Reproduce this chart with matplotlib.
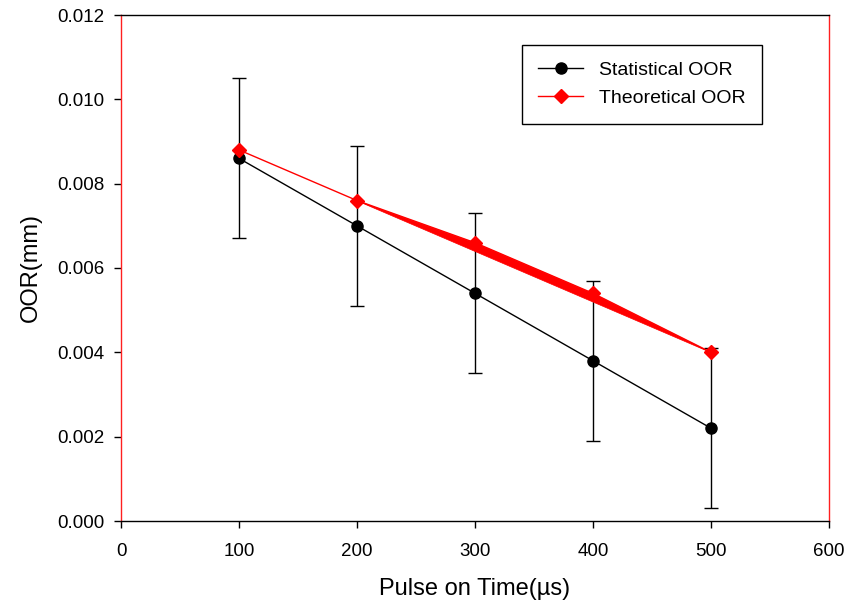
import matplotlib
matplotlib.use("Agg")
import matplotlib.pyplot as plt

plt.rcParams['font.family'] = ['Liberation Sans', 'DejaVu Sans']

# Pulse-on time (µs)
pulse_on = [100, 200, 300, 400, 500]
# Overcut (mm)
statistical_oor = [0.0086, 0.0070, 0.0054, 0.0038, 0.0022]
statistical_err = [0.0019, 0.0019, 0.0019, 0.0019, 0.0019]
theoretical_oor = [0.0088, 0.0076, 0.0066, 0.0054, 0.0040]
# lower edge of the theoretical band (200-500 µs)
band_x = [200, 300, 400, 500]
band_lower = [0.0076, 0.0064, 0.0052, 0.0040]

x_ticks = [0, 100, 200, 300, 400, 500, 600]
y_ticks = [0.000, 0.002, 0.004, 0.006, 0.008, 0.010, 0.012]

fig = plt.figure(figsize=(8.47, 6.10), dpi=100)
ax = fig.add_axes([121 / 847, 89 / 610, 708 / 847, 506 / 610])

ax.errorbar(pulse_on, statistical_oor, yerr=statistical_err, fmt='none',
            ecolor='black', elinewidth=1.0, capsize=5, capthick=1.0, zorder=2)
ax.plot(pulse_on, statistical_oor, color='black', lw=1.0, marker='o',
        markersize=8, label='Statistical OOR', zorder=3)

ax.fill_between(band_x, band_lower, theoretical_oor[1:], color='red',
                lw=0.5, edgecolor='red', zorder=3)
ax.plot(pulse_on, theoretical_oor, color='red', lw=1.0, marker='D',
        markersize=7, label='Theoretical OOR', zorder=4)

ax.set_xlim(0, 600)
ax.set_ylim(0, 0.012)
ax.set_xticks(x_ticks)
ax.set_yticks(y_ticks)
ax.set_yticklabels([f"{v:.3f}" for v in y_ticks])

for side in ('left', 'right'):
    ax.spines[side].set_color('#ff2020')
    ax.spines[side].set_linewidth(1.0)
for side in ('top', 'bottom'):
    ax.spines[side].set_color('black')
    ax.spines[side].set_linewidth(1.0)

ax.tick_params(axis='both', direction='out', length=5, width=1.0,
               colors='black', labelsize=13.5, pad=7)
ax.tick_params(axis='x', pad=11)

ax.set_xlabel('Pulse on Time(µs)', fontsize=17, labelpad=13)
ax.set_ylabel('OOR(mm)', fontsize=17, labelpad=11)

leg = ax.legend(loc='upper right', bbox_to_anchor=(0.905, 0.941),
                borderaxespad=0, fontsize=14, fancybox=False, framealpha=1,
                edgecolor='black', handlelength=2.3, borderpad=0.85,
                labelspacing=0.55)
leg.get_frame().set_linewidth(1.0)

fig.savefig('out.png', dpi=100)
